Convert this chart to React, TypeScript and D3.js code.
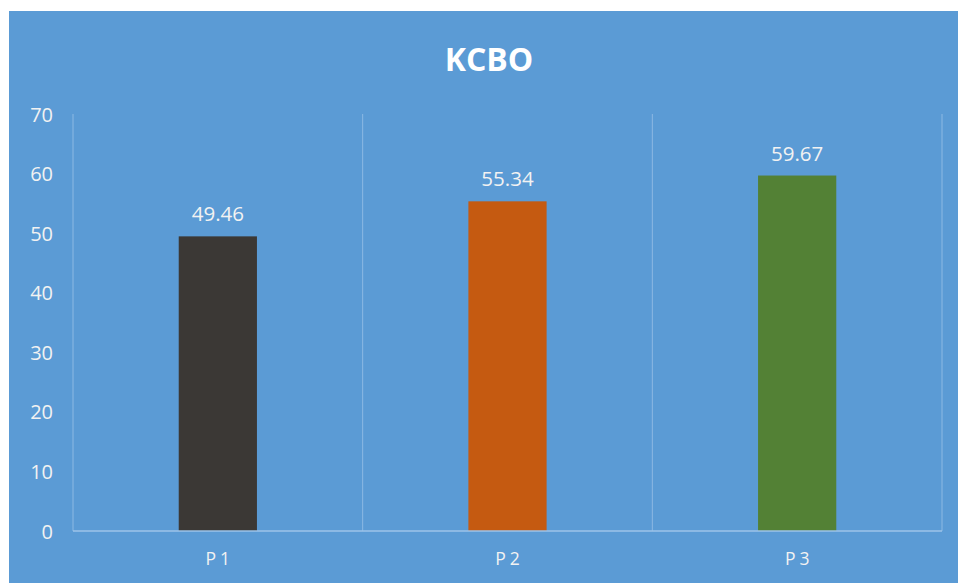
import { useEffect, useRef } from 'react';
import * as d3 from 'd3';

const categories = ['P1', 'P2', 'P3'];
const values = [49.46, 55.34, 59.67];
const barColors = ['#3B3835', '#C55A11', '#538135'];
const yTicks = [0, 10, 20, 30, 40, 50, 60, 70];
const title = 'KCBO';

function App() {
  const svgRef = useRef<SVGSVGElement>(null);

  useEffect(() => {
    const width = 958;
    const height = 583;
    const margin = { top: 114, right: 16, bottom: 52, left: 73 };
    const font = '"Open Sans", "Noto Sans", sans-serif';

    const svg = d3.select(svgRef.current)
      .attr('width', width)
      .attr('height', height);

    svg.selectAll('*').remove();

    svg.append('rect')
      .attr('width', width)
      .attr('height', height)
      .attr('fill', '#ffffff');

    svg.append('rect')
      .attr('x', 9)
      .attr('y', 11)
      .attr('width', width - 9)
      .attr('height', height - 11)
      .attr('fill', '#5B9BD5');

    const xScale = d3.scaleBand()
      .domain(categories)
      .range([margin.left, width - margin.right])
      .paddingInner(0)
      .paddingOuter(0);

    const yScale = d3.scaleLinear()
      .domain([0, 70])
      .range([height - margin.bottom, margin.top]);

    const barW = xScale.bandwidth() * 0.27;

    // category separators
    const bounds = categories.map(c => xScale(c) as number).concat([width - margin.right]);
    svg.selectAll('line.sep')
      .data(bounds)
      .enter()
      .append('line')
      .attr('x1', d => d)
      .attr('x2', d => d)
      .attr('y1', yScale(70))
      .attr('y2', yScale(0))
      .attr('stroke', '#8DB9E3')
      .attr('stroke-width', 1);

    svg.selectAll('rect.bar')
      .data(values)
      .enter()
      .append('rect')
      .attr('x', (d, i) => (xScale(categories[i]) as number) + xScale.bandwidth() / 2 - barW / 2)
      .attr('y', d => yScale(d))
      .attr('width', barW)
      .attr('height', d => yScale(0) - yScale(d))
      .attr('fill', (d, i) => barColors[i]);

    svg.append('line')
      .attr('x1', margin.left)
      .attr('x2', width - margin.right)
      .attr('y1', yScale(0))
      .attr('y2', yScale(0))
      .attr('stroke', '#9CC3E8')
      .attr('stroke-width', 1.5);

    svg.selectAll('text.val')
      .data(values)
      .enter()
      .append('text')
      .attr('x', (d, i) => (xScale(categories[i]) as number) + xScale.bandwidth() / 2)
      .attr('y', d => yScale(d) - 15)
      .attr('text-anchor', 'middle')
      .attr('font-family', font)
      .attr('font-size', 20.5)
      .attr('fill', '#F2F2F2')
      .text(d => d.toFixed(2));

    svg.selectAll('text.ytick')
      .data(yTicks)
      .enter()
      .append('text')
      .attr('x', 53)
      .attr('y', d => yScale(d) + 7.5)
      .attr('text-anchor', 'end')
      .attr('font-family', font)
      .attr('font-size', 20)
      .attr('fill', '#F2F2F2')
      .text(d => d);

    svg.selectAll('text.xtick')
      .data(categories)
      .enter()
      .append('text')
      .attr('x', d => (xScale(d) as number) + xScale.bandwidth() / 2 + 2)
      .attr('y', 565)
      .attr('text-anchor', 'middle')
      .attr('font-family', font)
      .attr('font-size', 17.5)
      .attr('letter-spacing', 4)
      .attr('fill', '#F2F2F2')
      .text(d => d);

    svg.append('text')
      .attr('x', 489)
      .attr('y', 71)
      .attr('text-anchor', 'middle')
      .attr('font-family', font)
      .attr('font-size', 32)
      .attr('font-weight', 'bold')
      .attr('fill', '#ffffff')
      .text(title);
  }, []);

  return (
    <svg ref={svgRef} style={{ position: 'absolute', left: 0, top: 0, display: 'block' }}></svg>
  );
}

export default App;
